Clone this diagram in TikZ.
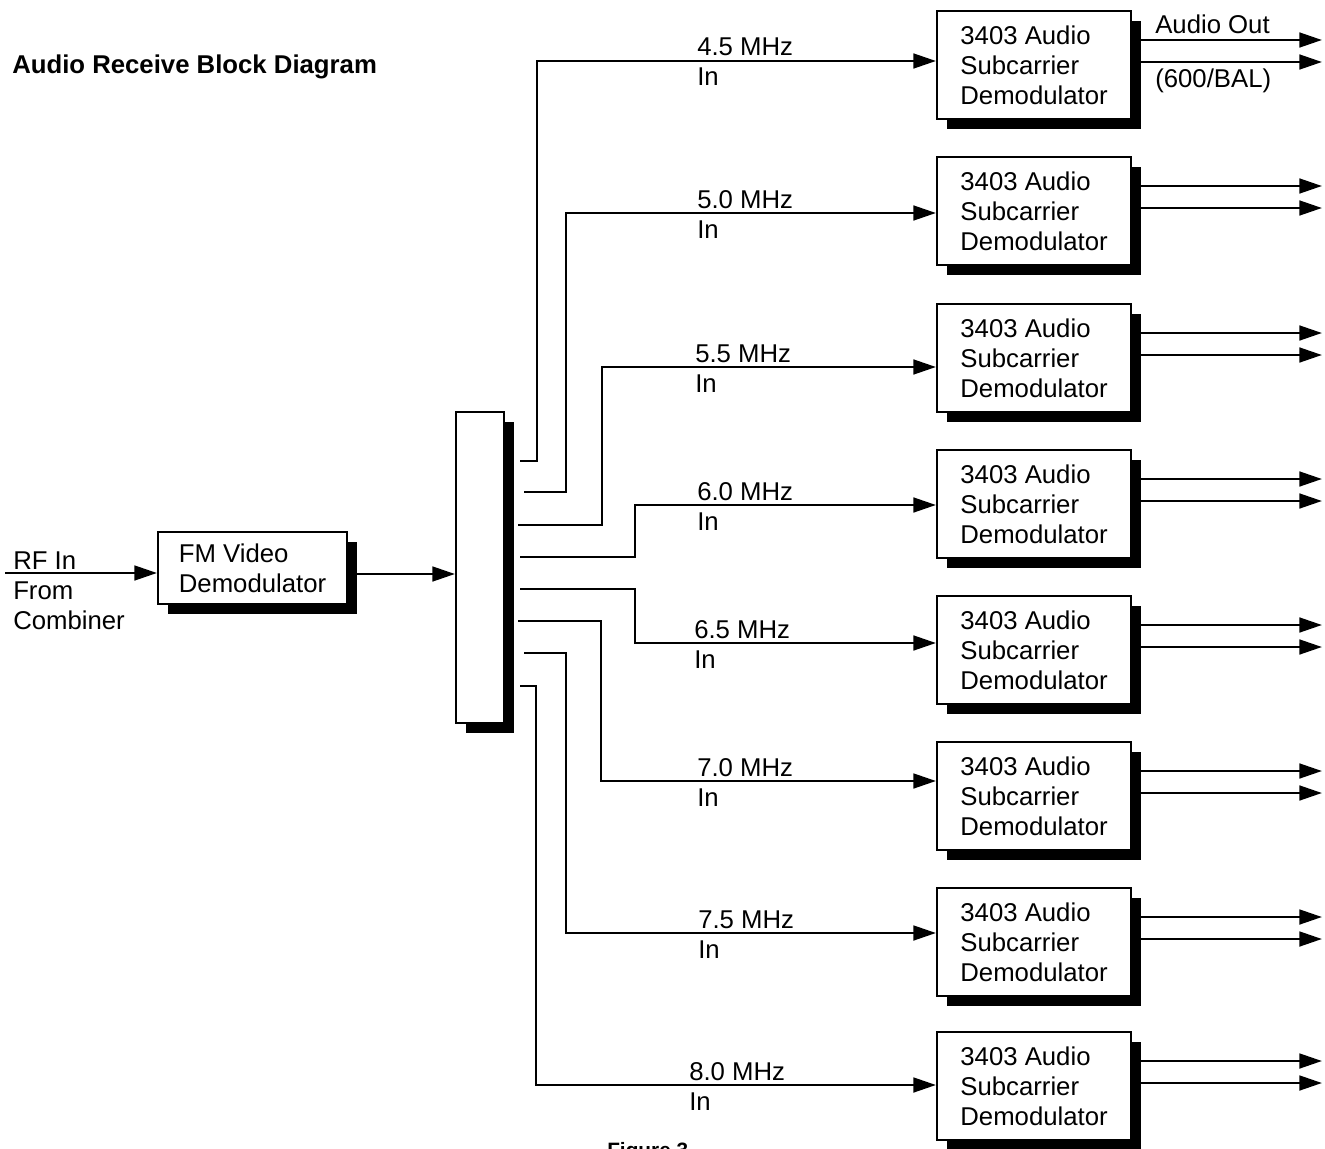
\documentclass[tikz,border=0pt]{standalone}
\usepackage{fontspec}
\setmainfont{Liberation Sans}
\usetikzlibrary{arrows.meta}
\begin{document}
\begin{tikzpicture}[x=0.75pt,y=-0.75pt,
  txt/.style={font=\fontsize{19.3}{22.5}\selectfont, inner sep=0},
  blk/.style={draw, line width=1.6pt, fill=white, inner sep=0, align=left, txt,
    preaction={fill=black, transform canvas={shift={(7.5pt,-7.5pt)}}}},
  demod/.style={blk, minimum width=145.5pt, minimum height=81pt, anchor=north west},
  wire/.style={line width=2.1pt},
  arr/.style={wire, -{Triangle[length=17pt,width=11pt]}}]
\useasboundingbox (0,0) rectangle (1325,1149);
\clip (0,0) rectangle (1325,1149);

\node[txt, font={\fontsize{19.3}{22.5}\selectfont\bfseries}, anchor=base west] (title) at (12,74) {Audio Receive Block Diagram};

% FM video demodulator
\node[blk, minimum width=141.75pt, minimum height=54pt, anchor=north west] (fm) at (157,531) {FM Video\\Demodulator};
\coordinate (rf) at (5,573);
\draw[arr] (rf) -- (fm.west |- rf);
\node[txt, anchor=base west] (rfin) at (13,569) {RF In};
\node[txt, anchor=base west] (from) at (13,599) {From};
\node[txt, anchor=base west] (comb) at (13,629) {Combiner};

% splitter
\node[blk, minimum width=36pt, minimum height=233.25pt, anchor=north west] (sp) at (455,411) {};
\coordinate (fmo) at (346,574);
\draw[arr] (fmo) -- (sp.west |- fmo);

% rows
\foreach \i/\f/\top/\ly/\vx/\sy/\sx/\lx in {
  1/4.5/10/61/537/461/520/697,
  2/5.0/156/213/566/492/524/697,
  3/5.5/303/367/602/525/518/695,
  4/6.0/449/505/635/557/520/697,
  5/6.5/595/643/635/589/520/694,
  6/7.0/741/781/601/621/518/697,
  7/7.5/887/933/566/653/524/698,
  8/8.0/1031/1085/536/686/520/689} {
  \node[demod] (d\i) at (936,\top) {3403 Audio\\Subcarrier\\Demodulator};
  \coordinate (s\i) at (\sx,\sy);
  \coordinate (t\i) at (936,\ly);
  \draw[arr] (s\i) -| (\vx,\ly) -- (d\i.west |- t\i);
  \node[txt, anchor=base west] (f\i) at (\lx,{\ly-5}) {\f\ MHz};
  \node[txt, anchor=base west] (in\i) at (\lx,{\ly+25}) {In};
  \coordinate (ea\i) at (1322,{\top+30});
  \coordinate (eb\i) at (1322,{\top+52});
  \draw[arr] (d\i.east |- ea\i) -- (ea\i);
  \draw[arr] (d\i.east |- eb\i) -- (eb\i);
}
\node[txt, anchor=base west] (aout) at (1155,34) {Audio Out};
\node[txt, anchor=base west] (bal) at (1155,88) {(600/BAL)};

\node[txt, font={\fontsize{15.6}{18}\selectfont\bfseries}, anchor=base west] (fig) at (607,1157) {Figure 3};
\end{tikzpicture}
\end{document}
